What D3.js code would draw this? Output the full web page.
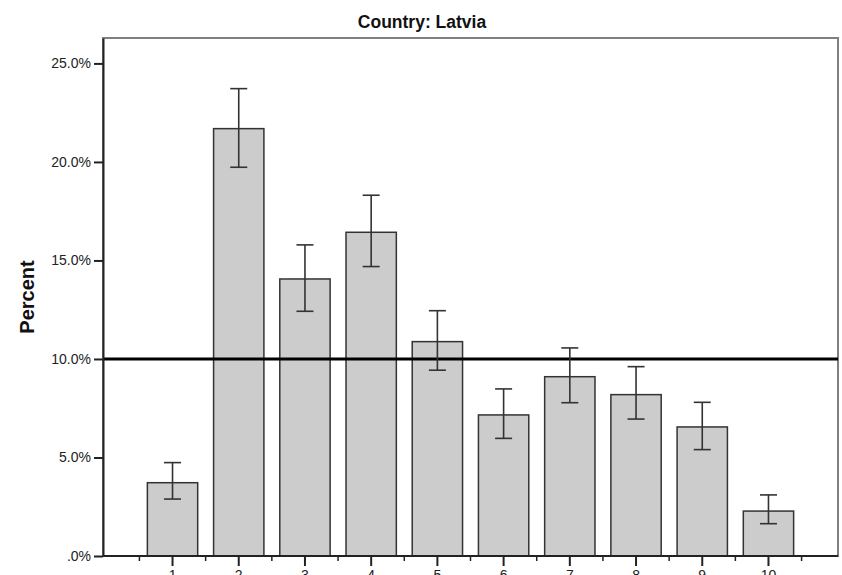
<!DOCTYPE html>
<html>
<head>
<meta charset="utf-8">
<script src="https://cdn.jsdelivr.net/npm/d3@7"></script>
<style>
  html, body { margin: 0; padding: 0; background: #fff; }
  svg { display: block; font-family: "Liberation Sans", Arial, sans-serif; }
</style>
</head>
<body>
<svg id="chart" width="842" height="575"></svg>
<script>
// Share of respondents per category (percent) with 95% confidence limits
const categories = ["1", "2", "3", "4", "5", "6", "7", "8", "9", "10"];
const percentValues = [3.72, 21.69, 14.06, 16.43, 10.88, 7.16, 9.10, 8.19, 6.55, 2.28];
const ciLower = [2.89, 19.73, 12.42, 14.69, 9.43, 5.97, 7.78, 6.95, 5.40, 1.64];
const ciUpper = [4.74, 23.72, 15.79, 18.31, 12.45, 8.48, 10.56, 9.61, 7.80, 3.10];
const yTicks = [0, 5, 10, 15, 20, 25];
const referenceValue = 10;
const chartTitle = "Country: Latvia";
const yLabel = "Percent";

const svg = d3.select("#chart");
const frame = { left: 103, right: 838, top: 38, bottom: 556 };

const x = d3.scaleBand()
  .domain(categories)
  .range([frame.left, frame.right])
  .paddingInner(0.24)
  .paddingOuter(0.67);

const y = d3.scaleLinear()
  .domain([0, 26.29])
  .range([frame.bottom, frame.top]);

// Data region border (top / right in grey)
svg.append("rect")
  .attr("x", frame.left)
  .attr("y", frame.top)
  .attr("width", frame.right - frame.left)
  .attr("height", frame.bottom - frame.top)
  .attr("fill", "none")
  .attr("stroke", "#808080")
  .attr("stroke-width", 2);

const rows = categories.map((c, i) => ({
  cat: c, value: percentValues[i], lo: ciLower[i], hi: ciUpper[i]
}));

// Bars
svg.append("g").selectAll("rect")
  .data(rows)
  .join("rect")
  .attr("x", d => x(d.cat))
  .attr("y", d => y(d.value))
  .attr("width", x.bandwidth())
  .attr("height", d => y(0) - y(d.value))
  .attr("fill", "#cccccc")
  .attr("stroke", "#333")
  .attr("stroke-width", 1.5);

// Reference line
svg.append("line")
  .attr("x1", frame.left)
  .attr("x2", frame.right)
  .attr("y1", y(referenceValue))
  .attr("y2", y(referenceValue))
  .attr("stroke", "#000")
  .attr("stroke-width", 3);

// Error bars
const capHalf = 8.5;
const err = svg.append("g")
  .attr("stroke", "#333")
  .attr("stroke-width", 1.6)
  .selectAll("g")
  .data(rows)
  .join("g")
  .attr("transform", d => `translate(${x(d.cat) + x.bandwidth() / 2},0)`);
err.append("line").attr("y1", d => y(d.lo)).attr("y2", d => y(d.hi));
err.append("line").attr("x1", -capHalf).attr("x2", capHalf)
  .attr("y1", d => y(d.hi)).attr("y2", d => y(d.hi));
err.append("line").attr("x1", -capHalf).attr("x2", capHalf)
  .attr("y1", d => y(d.lo)).attr("y2", d => y(d.lo));

// Y axis
const pctFormat = v => d3.format(".1f")(v).replace(/^0/, "") + "%";
const yAxis = svg.append("g")
  .attr("transform", `translate(${frame.left},0)`)
  .call(d3.axisLeft(y).tickValues(yTicks).tickFormat(pctFormat)
    .tickSize(9).tickSizeOuter(0).tickPadding(3));
yAxis.select(".domain").attr("stroke", "#222").attr("stroke-width", 2);
yAxis.selectAll(".tick line").attr("stroke", "#222").attr("stroke-width", 2);
yAxis.selectAll(".tick text")
  .attr("font-size", 14)
  .attr("font-family", "Liberation Sans, Arial, sans-serif")
  .attr("fill", "#222");

// Minor ticks between categories on the x axis
const step = x.step();
const minorPos = categories.map(c => x(c) + x.bandwidth() / 2 - step / 2)
  .concat([x(categories[categories.length - 1]) + x.bandwidth() / 2 + step / 2]);
svg.append("g").selectAll("line")
  .data(minorPos)
  .join("line")
  .attr("x1", d => d).attr("x2", d => d)
  .attr("y1", frame.bottom).attr("y2", frame.bottom + 5)
  .attr("stroke", "#222")
  .attr("stroke-width", 1.5);

// X axis
const xAxis = svg.append("g")
  .attr("transform", `translate(0,${frame.bottom})`)
  .call(d3.axisBottom(x).tickSize(10).tickSizeOuter(0).tickPadding(4));
xAxis.select(".domain")
  .attr("d", `M${frame.left},0H${frame.right}`)
  .attr("stroke", "#222").attr("stroke-width", 2);
xAxis.selectAll(".tick line").attr("stroke", "#222").attr("stroke-width", 2);
xAxis.selectAll(".tick text")
  .attr("font-size", 14)
  .attr("font-family", "Liberation Sans, Arial, sans-serif")
  .attr("fill", "#222");

// Title
svg.append("text")
  .attr("x", 422)
  .attr("y", 28)
  .attr("text-anchor", "middle")
  .attr("font-size", 17.5)
  .attr("font-weight", "bold")
  .attr("fill", "#111")
  .text(chartTitle);

// Y axis label
svg.append("text")
  .attr("transform", `translate(34,${(frame.top + frame.bottom) / 2}) rotate(-90)`)
  .attr("text-anchor", "middle")
  .attr("font-size", 20)
  .attr("font-weight", "bold")
  .attr("fill", "#111")
  .text(yLabel);
</script>
</body>
</html>
